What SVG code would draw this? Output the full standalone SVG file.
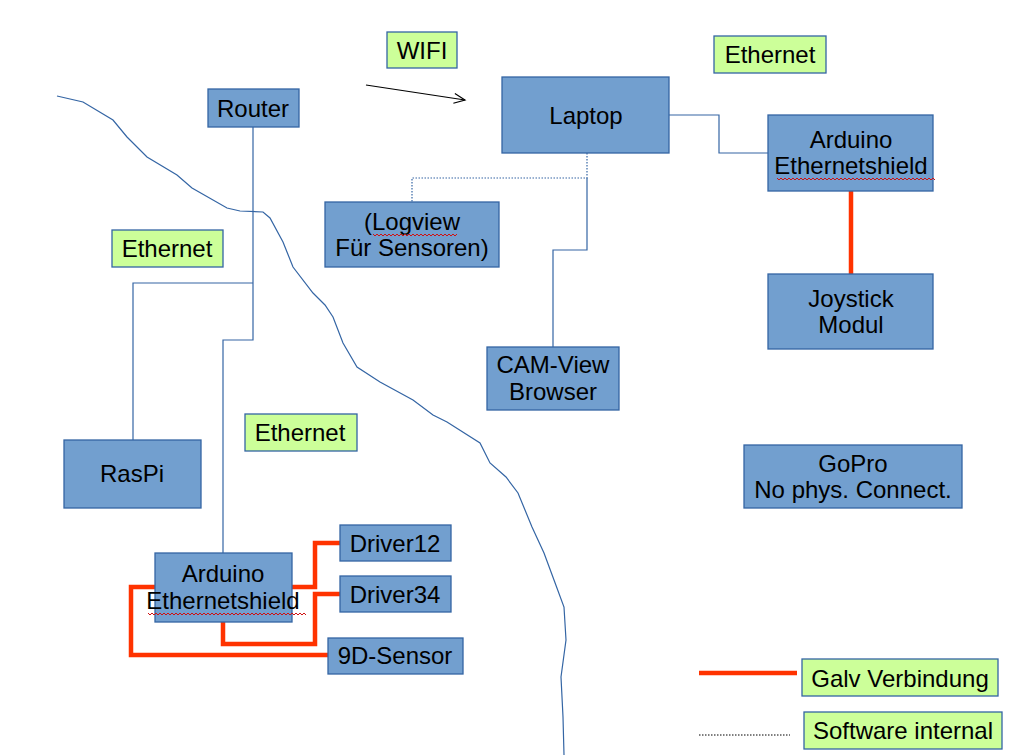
<svg xmlns="http://www.w3.org/2000/svg" width="1018" height="755" viewBox="0 0 1018 755">
<style>
.box{fill:#729fcf;stroke:#3465a4;stroke-width:1.3}
.lbl{fill:#ccff99;stroke:#3465a4;stroke-width:1.3}
text{font-family:"Liberation Sans",Arial,sans-serif;font-size:24px;fill:#000;text-anchor:middle}
.ln{fill:none;stroke:#3465a4;stroke-width:1.2}
.dot{fill:none;stroke:#3465a4;stroke-width:1.2;stroke-dasharray:1.5 1.5}
.red{fill:none;stroke:#ff3300;stroke-width:4.5;stroke-linejoin:miter}
.spell{fill:none;stroke:#d01010;stroke-width:1}
</style>
<defs>
<marker id="open" markerWidth="14" markerHeight="12" refX="12" refY="6" orient="auto" markerUnits="userSpaceOnUse">
<path d="M1,1 L12,6 L1,11" fill="none" stroke="#000" stroke-width="1.2"/>
</marker>
</defs>
<rect width="1018" height="755" fill="#fff"/>

<path class="ln" d="M57,96 L83,102 L113,120 L127,137 L147,157 L177,175 L192,188 L227,208 L240,211 L263,212 L270,218 L283,242 L293,267 L313,293 L325,305 L333,317 L343,343 L357,367 L380,382 L413,400 L433,415 L447,422 L480,443 L490,463 L506,477 L518,493 L532,527 L544,553 L554,580 L564,607 L566,640 L561,677 L563,717 L564,755"/>

<g id="connectors">
<path class="ln" d="M253,127 V340 H223 V553"/>
<path class="ln" d="M253,283 H133 V440"/>
<path class="ln" d="M669,115 H719 V153 H768"/>
<path class="dot" d="M587,153 V178 H412 V202"/>
<path class="ln" d="M587,178 V250 H553 V347"/>
<path class="red" d="M851,191 V274"/>
<path class="red" d="M292,587 H315 V543 H340"/>
<path class="red" d="M340,594 H315 V644 H223 V622"/>
<path class="red" d="M328,655 H131 V587 H155"/>
<path d="M366,85 L465,100" stroke="#000" stroke-width="1.2" fill="none" marker-end="url(#open)"/>
<path class="red" d="M699,673 H797"/>
<path d="M699,735 H790" fill="none" stroke="#000" stroke-width="1" stroke-dasharray="1.5 1.5"/>
</g>

<g id="wifi"><rect class="lbl" x="387" y="32" width="70" height="36"/><text x="422" y="59">WIFI</text></g>
<g id="router"><rect class="box" x="208" y="89" width="91" height="38"/><text x="253" y="117">Router</text></g>
<g id="eth-left"><rect class="lbl" x="112" y="230" width="111" height="37"/><text x="167" y="257">Ethernet</text></g>
<g id="logview"><rect class="box" x="325" y="202" width="174" height="65"/><text x="412" y="230">(Logview</text><text x="412" y="256">Für Sensoren)</text>
<path class="spell" d="M373,234 l2,2 l2,-2 l2,2 l2,-2 l2,2 l2,-2 l2,2 l2,-2 l2,2 l2,-2 l2,2 l2,-2 l2,2 l2,-2 l2,2 l2,-2 l2,2 l2,-2 l2,2 l2,-2 l2,2 l2,-2 l2,2 l2,-2 l2,2 l2,-2 l2,2 l2,-2 l2,2 l2,-2 l2,2 l2,-2 l2,2 l2,-2 l2,2 l2,-2 l2,2 l2,-2 l2,2 l2,-2 l2,2 l2,-2"/></g>
<g id="laptop"><rect class="box" x="502" y="77" width="167" height="76"/><text x="586" y="124">Laptop</text></g>
<g id="eth-right"><rect class="lbl" x="714" y="36" width="112" height="37"/><text x="770" y="63">Ethernet</text></g>
<g id="arduino-right"><rect class="box" x="768" y="115" width="165" height="76"/><text x="851" y="148">Arduino</text><text x="851" y="174">Ethernetshield</text>
<path class="spell" d="M777,178 l2,2 l2,-2 l2,2 l2,-2 l2,2 l2,-2 l2,2 l2,-2 l2,2 l2,-2 l2,2 l2,-2 l2,2 l2,-2 l2,2 l2,-2 l2,2 l2,-2 l2,2 l2,-2 l2,2 l2,-2 l2,2 l2,-2 l2,2 l2,-2 l2,2 l2,-2 l2,2 l2,-2 l2,2 l2,-2 l2,2 l2,-2 l2,2 l2,-2 l2,2 l2,-2 l2,2 l2,-2 l2,2 l2,-2 l2,2 l2,-2 l2,2 l2,-2 l2,2 l2,-2 l2,2 l2,-2 l2,2 l2,-2 l2,2 l2,-2 l2,2 l2,-2 l2,2 l2,-2 l2,2 l2,-2 l2,2 l2,-2 l2,2 l2,-2 l2,2 l2,-2 l2,2 l2,-2 l2,2 l2,-2 l2,2 l2,-2 l2,2 l2,-2 l2,2 l2,-2 l2,2 l2,-2 l2,2"/></g>
<g id="joystick"><rect class="box" x="768" y="274" width="165" height="75"/><text x="851" y="307">Joystick</text><text x="851" y="333">Modul</text></g>
<g id="camview"><rect class="box" x="487" y="347" width="132" height="63"/><text x="553" y="373">CAM-View</text><text x="553" y="400">Browser</text></g>
<g id="gopro"><rect class="box" x="744" y="445" width="218" height="63"/><text x="853" y="472">GoPro</text><text x="853" y="498">No phys. Connect.</text></g>
<g id="raspi"><rect class="box" x="64" y="440" width="137" height="68"/><text x="132" y="482">RasPi</text></g>
<g id="eth-mid"><rect class="lbl" x="245" y="414" width="112" height="37"/><text x="300" y="441">Ethernet</text></g>
<g id="arduino-left"><rect class="box" x="155" y="553" width="137" height="69"/><text x="223" y="582">Arduino</text><text x="223" y="609">Ethernetshield</text>
<path class="spell" d="M148,613 l2,2 l2,-2 l2,2 l2,-2 l2,2 l2,-2 l2,2 l2,-2 l2,2 l2,-2 l2,2 l2,-2 l2,2 l2,-2 l2,2 l2,-2 l2,2 l2,-2 l2,2 l2,-2 l2,2 l2,-2 l2,2 l2,-2 l2,2 l2,-2 l2,2 l2,-2 l2,2 l2,-2 l2,2 l2,-2 l2,2 l2,-2 l2,2 l2,-2 l2,2 l2,-2 l2,2 l2,-2 l2,2 l2,-2 l2,2 l2,-2 l2,2 l2,-2 l2,2 l2,-2 l2,2 l2,-2 l2,2 l2,-2 l2,2 l2,-2 l2,2 l2,-2 l2,2 l2,-2 l2,2 l2,-2 l2,2 l2,-2 l2,2 l2,-2 l2,2 l2,-2 l2,2 l2,-2 l2,2 l2,-2 l2,2 l2,-2 l2,2 l2,-2 l2,2 l2,-2 l2,2 l2,-2 l2,2"/></g>
<g id="driver12"><rect class="box" x="340" y="525" width="111" height="36"/><text x="395" y="552">Driver12</text></g>
<g id="driver34"><rect class="box" x="340" y="576" width="111" height="36"/><text x="395" y="603">Driver34</text></g>
<g id="sensor9d"><rect class="box" x="328" y="638" width="135" height="36"/><text x="395" y="664">9D-Sensor</text></g>
<g id="legend-galv"><rect class="lbl" x="802" y="659" width="196" height="37"/><text x="900" y="687">Galv Verbindung</text></g>
<g id="legend-sw"><rect class="lbl" x="804" y="712" width="198" height="37"/><text x="903" y="739">Software internal</text></g>
</svg>
